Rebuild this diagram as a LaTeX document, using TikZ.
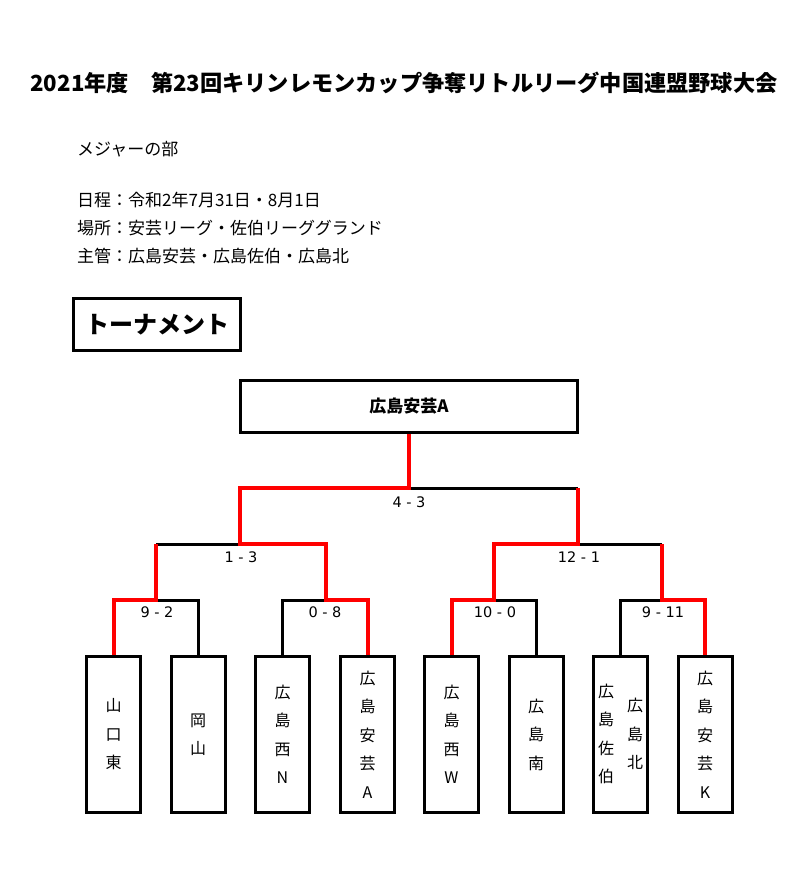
\documentclass[tikz,border=0pt]{standalone}
\usepackage{fontspec}
\setmainfont{Noto Sans CJK JP}
\newfontfamily\scorefont{DejaVu Sans}
\begin{document}
\begin{tikzpicture}[x=1pt,y=-1pt,
  team/.style={draw, line width=3pt, minimum width=54pt, minimum height=156pt, inner sep=0pt, align=center, font=\fontsize{16}{28.5}\selectfont},
  score/.style={font=\scorefont\fontsize{14.5}{16}\selectfont, inner sep=0pt},
  lose/.style={line width=3pt, black, line cap=square},
  win/.style={line width=4pt, red, line cap=square},
  info/.style={anchor=west, font=\fontsize{17}{20}\selectfont, inner sep=0pt}]
\useasboundingbox (0,0) rectangle (800,888);
% title and info
\node[font=\bfseries\fontsize{22.2}{26}\selectfont, inner sep=0pt] (title) at (404,83) {2021年度　第23回キリンレモンカップ争奪リトルリーグ中国連盟野球大会};
\node[info] (i1) at (77,149) {メジャーの部};
\node[info] (i2) at (77,200) {日程：令和2年7月31日・8月1日};
\node[info] (i3) at (77,228) {場所：安芸リーグ・佐伯リーググランド};
\node[info] (i4) at (77,256) {主管：広島安芸・広島佐伯・広島北};
\node[draw, line width=3pt, minimum width=167pt, minimum height=52pt, inner sep=0pt, font=\bfseries\fontsize{24}{28}\selectfont] (tour) at (157,324.5) {トーナメント};
% champion
\node[draw, line width=3pt, minimum width=337pt, minimum height=52pt, inner sep=0pt, font=\bfseries\fontsize{17}{20}\selectfont] (champ) at (409,406.5) {広島安芸A};
% teams
\node[team] (t1) at (113.5,734.5) {山\\口\\東};
\node[team] (t2) at (198,734.5) {岡\\山};
\node[team] (t3) at (282.5,734.5) {広\\島\\西\\N};
\node[team] (t4) at (367.5,734.5) {広\\島\\安\\芸\\A};
\node[team] (t5) at (451.5,734.5) {広\\島\\西\\W};
\node[team] (t6) at (536,734.5) {広\\島\\南};
\node[team] (t7) at (620.5,734.5) {\begin{tabular}[c]{@{}c@{}}広\\島\\佐\\伯\end{tabular}\hspace{13pt}\begin{tabular}[c]{@{}c@{}}広\\島\\北\end{tabular}};
\node[team] (t8) at (705,734.5) {広\\島\\安\\芸\\K};
% junctions
\coordinate (m1) at (156,600);
\coordinate (m2) at (326,600);
\coordinate (m3) at (494,600);
\coordinate (m4) at (662,600);
\coordinate (s1) at (240,544);
\coordinate (s2) at (578,544);
\coordinate (f) at (409,488);
% losing lines
\draw[lose] (t2.north) |- (m1);
\draw[lose] (m1 |- s1) -- (s1);
\draw[lose] (t3.north) |- (m2);
\draw[lose] (t6.north) |- (m3);
\draw[lose] (t7.north) |- (m4);
\draw[lose] (m4 |- s2) -- (s2);
\draw[lose] (s2 |- f) -- (f);
% winning lines
\draw[win] (t1.north) |- (m1) -- (m1 |- s1);
\draw[win] (t4.north) |- (m2) -- (m2 |- s1) -- (s1) -- (s1 |- f) -- (f) -- (champ.south);
\draw[win] (t5.north) |- (m3) -- (m3 |- s2) -- (s2) -- (s2 |- f);
\draw[win] (t8.north) |- (m4) -- (m4 |- s2);
% scores
\node[score] (r0) at (409,502) {4 - 3};
\node[score] (r1) at (241,557) {1 - 3};
\node[score] (r2) at (579,557) {12 - 1};
\node[score] (r3) at (157,612) {9 - 2};
\node[score] (r4) at (325,612) {0 - 8};
\node[score] (r5) at (495,612) {10 - 0};
\node[score] (r6) at (663,612) {9 - 11};
\end{tikzpicture}
\end{document}
